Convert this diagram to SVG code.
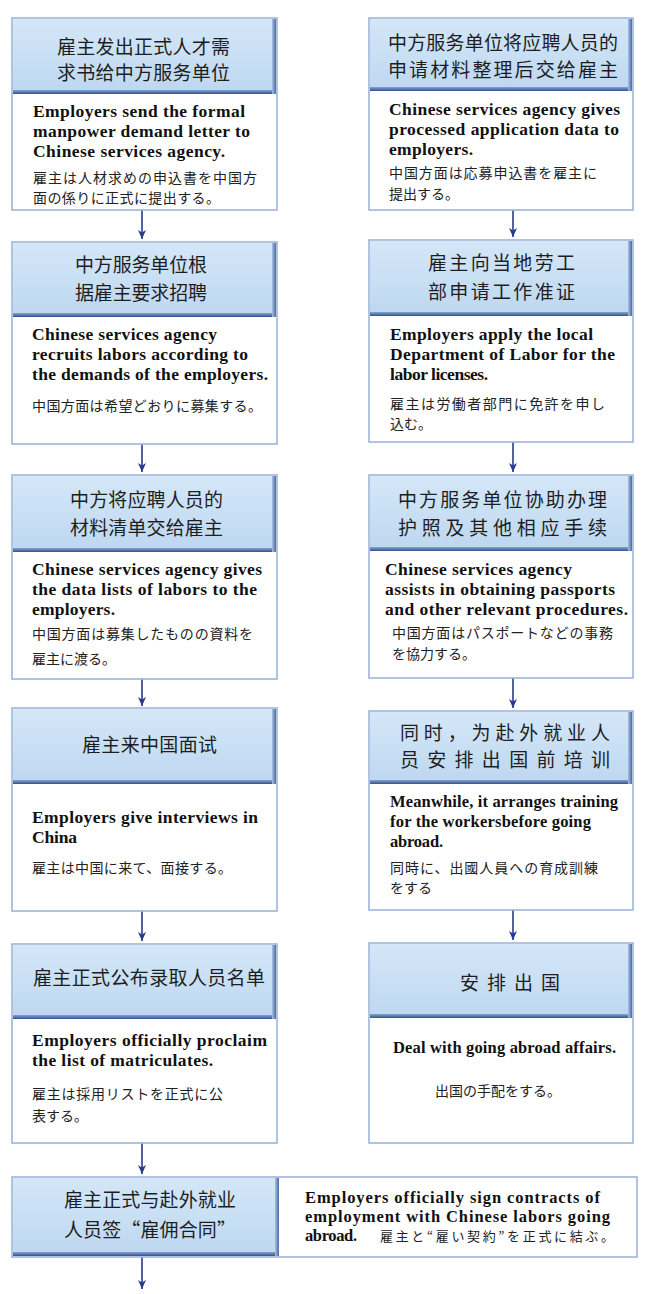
<svg xmlns="http://www.w3.org/2000/svg" width="650" height="1294" viewBox="0 0 650 1294">
<style>
.frame{fill:#ffffff;stroke:#9fb5da;stroke-width:1.6}
.hdr{fill:url(#hg)}
.bb{fill:url(#bbg)}
.br{fill:url(#brg)}
.cn{font-family:"Noto Sans CJK SC","Noto Sans",sans-serif;font-size:19px;fill:#1e1e1e}
.en{font-family:"Liberation Serif",serif;font-weight:bold;font-size:17.5px;fill:#111}
.en2{font-family:"Liberation Serif",serif;font-weight:bold;font-size:16.5px;fill:#111}
.jp{font-family:"Noto Sans CJK JP","Noto Sans CJK SC",sans-serif;font-size:14px;fill:#222}
.arrow{stroke:#283a8c;stroke-width:1.6;fill:none;marker-end:url(#ah)}
</style>
<defs>
<linearGradient id="hg" x1="0" y1="0" x2="0" y2="1">
<stop offset="0" stop-color="#d4e7f8"/>
<stop offset="1" stop-color="#bdd7f0"/>
</linearGradient>
<linearGradient id="bbg" x1="0" y1="0" x2="0" y2="1">
<stop offset="0" stop-color="#86a4d0"/>
<stop offset="1" stop-color="#34528c"/>
</linearGradient>
<linearGradient id="brg" x1="0" y1="0" x2="1" y2="0">
<stop offset="0" stop-color="#a9c0e2"/>
<stop offset="1" stop-color="#4a6aa3"/>
</linearGradient>
<marker id="ah" markerUnits="userSpaceOnUse" markerWidth="10" markerHeight="10" refX="9" refY="5" orient="auto">
<path d="M0,1 L9,5 L0,9 L2.5,5 z" fill="#283a8c"/>
</marker>
</defs>
<rect x="0" y="0" width="650" height="1294" fill="#ffffff"/>

<g id="connectors">
<line class="arrow" x1="142" y1="210" x2="142" y2="239"/>
<line class="arrow" x1="142" y1="444" x2="142" y2="472"/>
<line class="arrow" x1="142" y1="679" x2="142" y2="706"/>
<line class="arrow" x1="142" y1="911" x2="142" y2="941"/>
<line class="arrow" x1="142" y1="1143" x2="142" y2="1174"/>
<line class="arrow" x1="142" y1="1257" x2="142" y2="1289"/>
<line class="arrow" x1="513" y1="210" x2="513" y2="237"/>
<line class="arrow" x1="513" y1="442" x2="513" y2="472"/>
<line class="arrow" x1="513" y1="678" x2="513" y2="708"/>
<line class="arrow" x1="513" y1="910" x2="513" y2="940"/>
</g>

<g id="node-l1">
<rect class="frame" x="12" y="18" width="265" height="192"/>
<rect class="hdr" x="13" y="19" width="263" height="75"/>
<rect class="bb" x="13" y="90" width="263" height="4"/>
<rect class="br" x="272" y="19" width="4" height="75"/>
<text class="cn" x="57" y="54" textLength="173" lengthAdjust="spacing">雇主发出正式人才需</text>
<text class="cn" x="57" y="80" textLength="173" lengthAdjust="spacing">求书给中方服务单位</text>
<text class="en" x="33" y="117" textLength="212" lengthAdjust="spacing">Employers send the formal</text>
<text class="en" x="33" y="137" textLength="217" lengthAdjust="spacing">manpower demand letter to</text>
<text class="en" x="33" y="157" textLength="192" lengthAdjust="spacing">Chinese services agency.</text>
<text class="jp" x="33" y="183" textLength="224" lengthAdjust="spacing">雇主は人材求めの申込書を中国方</text>
<text class="jp" x="33" y="203" textLength="187" lengthAdjust="spacing">面の係りに正式に提出する。</text>
</g>

<g id="node-r1">
<rect class="frame" x="369" y="18" width="264" height="192"/>
<rect class="hdr" x="370" y="19" width="262" height="72"/>
<rect class="bb" x="370" y="87" width="262" height="4"/>
<rect class="br" x="628" y="19" width="4" height="72"/>
<text class="cn" x="388" y="50" textLength="230" lengthAdjust="spacing">中方服务单位将应聘人员的</text>
<text class="cn" x="388" y="77" textLength="230" lengthAdjust="spacing">申请材料整理后交给雇主</text>
<text class="en" x="389" y="115" textLength="231" lengthAdjust="spacing">Chinese services agency gives</text>
<text class="en" x="389" y="135" textLength="230" lengthAdjust="spacing">processed application data to</text>
<text class="en" x="389" y="155" textLength="84" lengthAdjust="spacing">employers.</text>
<text class="jp" x="389" y="178" textLength="208" lengthAdjust="spacing">中国方面は応募申込書を雇主に</text>
<text class="jp" x="389" y="199">提出する。</text>
</g>

<g id="node-l2">
<rect class="frame" x="12" y="242" width="265" height="202"/>
<rect class="hdr" x="13" y="243" width="263" height="74"/>
<rect class="bb" x="13" y="313" width="263" height="4"/>
<rect class="br" x="272" y="243" width="4" height="74"/>
<text class="cn" x="75" y="272" textLength="132" lengthAdjust="spacing">中方服务单位根</text>
<text class="cn" x="75" y="300" textLength="132" lengthAdjust="spacing">据雇主要求招聘</text>
<text class="en" x="32" y="340" textLength="185" lengthAdjust="spacing">Chinese services agency</text>
<text class="en" x="32" y="360" textLength="216" lengthAdjust="spacing">recruits labors according to</text>
<text class="en" x="32" y="380" textLength="236" lengthAdjust="spacing">the demands of the employers.</text>
<text class="jp" x="32" y="411" textLength="230" lengthAdjust="spacing">中国方面は希望どおりに募集する。</text>
</g>

<g id="node-r2">
<rect class="frame" x="369" y="240" width="264" height="202"/>
<rect class="hdr" x="370" y="241" width="262" height="75"/>
<rect class="bb" x="370" y="312" width="262" height="4"/>
<rect class="br" x="628" y="241" width="4" height="75"/>
<text class="cn" x="428" y="270" textLength="147" lengthAdjust="spacing">雇主向当地劳工</text>
<text class="cn" x="428" y="299" textLength="147" lengthAdjust="spacing">部申请工作准证</text>
<text class="en" x="390" y="340" textLength="203" lengthAdjust="spacing">Employers apply the local</text>
<text class="en" x="390" y="360" textLength="225" lengthAdjust="spacing">Department of Labor for the</text>
<text class="en" x="390" y="380" textLength="98" lengthAdjust="spacing">labor licenses.</text>
<text class="jp" x="390" y="409" textLength="215" lengthAdjust="spacing">雇主は労働者部門に免許を申し</text>
<text class="jp" x="390" y="429">込む。</text>
</g>

<g id="node-l3">
<rect class="frame" x="12" y="475" width="265" height="204"/>
<rect class="hdr" x="13" y="476" width="263" height="76"/>
<rect class="bb" x="13" y="548" width="263" height="4"/>
<rect class="br" x="272" y="476" width="4" height="76"/>
<text class="cn" x="70" y="507" textLength="153" lengthAdjust="spacing">中方将应聘人员的</text>
<text class="cn" x="70" y="535" textLength="153" lengthAdjust="spacing">材料清单交给雇主</text>
<text class="en" x="32" y="575" textLength="230" lengthAdjust="spacing">Chinese services agency gives</text>
<text class="en" x="32" y="595" textLength="225" lengthAdjust="spacing">the data lists of labors to the</text>
<text class="en" x="32" y="615" textLength="83" lengthAdjust="spacing">employers.</text>
<text class="jp" x="32" y="639" textLength="221" lengthAdjust="spacing">中国方面は募集したものの資料を</text>
<text class="jp" x="32" y="664">雇主に渡る。</text>
</g>

<g id="node-r3">
<rect class="frame" x="369" y="475" width="264" height="203"/>
<rect class="hdr" x="370" y="476" width="262" height="75"/>
<rect class="bb" x="370" y="547" width="262" height="4"/>
<rect class="br" x="628" y="476" width="4" height="75"/>
<text class="cn" x="398" y="507" textLength="209" lengthAdjust="spacing">中方服务单位协助办理</text>
<text class="cn" x="398" y="535" textLength="209" lengthAdjust="spacing">护照及其他相应手续</text>
<text class="en" x="385" y="575" textLength="187" lengthAdjust="spacing">Chinese services agency</text>
<text class="en" x="385" y="595" textLength="230" lengthAdjust="spacing">assists in obtaining passports</text>
<text class="en" x="385" y="615" textLength="243" lengthAdjust="spacing">and other relevant procedures.</text>
<text class="jp" x="392" y="638" textLength="221" lengthAdjust="spacing">中国方面はパスポートなどの事務</text>
<text class="jp" x="392" y="659">を協力する。</text>
</g>

<g id="node-l4">
<rect class="frame" x="12" y="708" width="265" height="203"/>
<rect class="hdr" x="13" y="709" width="263" height="75"/>
<rect class="bb" x="13" y="780" width="263" height="4"/>
<rect class="br" x="272" y="709" width="4" height="75"/>
<text class="cn" x="82" y="752" textLength="135" lengthAdjust="spacing">雇主来中国面试</text>
<text class="en" x="32" y="823" textLength="226" lengthAdjust="spacing">Employers give interviews in</text>
<text class="en" x="32" y="843" textLength="45" lengthAdjust="spacing">China</text>
<text class="jp" x="32" y="873" textLength="200" lengthAdjust="spacing">雇主は中国に来て、面接する。</text>
</g>

<g id="node-r4">
<rect class="frame" x="369" y="711" width="264" height="199"/>
<rect class="hdr" x="370" y="712" width="262" height="72"/>
<rect class="bb" x="370" y="780" width="262" height="4"/>
<rect class="br" x="628" y="712" width="4" height="72"/>
<text class="cn" x="400" y="740" textLength="210" lengthAdjust="spacing">同时，为赴外就业人</text>
<text class="cn" x="400" y="767" textLength="210" lengthAdjust="spacing">员安排出国前培训</text>
<text class="en2" x="390" y="807" textLength="228" lengthAdjust="spacing">Meanwhile, it arranges training</text>
<text class="en2" x="390" y="827" textLength="201" lengthAdjust="spacing">for the workersbefore going</text>
<text class="en2" x="390" y="847" textLength="53" lengthAdjust="spacing">abroad.</text>
<text class="jp" x="390" y="873" textLength="208" lengthAdjust="spacing">同時に、出國人員への育成訓練</text>
<text class="jp" x="390" y="893">をする</text>
</g>

<g id="node-l5">
<rect class="frame" x="12" y="944" width="265" height="199"/>
<rect class="hdr" x="13" y="945" width="263" height="74"/>
<rect class="bb" x="13" y="1015" width="263" height="4"/>
<rect class="br" x="272" y="945" width="4" height="74"/>
<text class="cn" x="33" y="985" textLength="232" lengthAdjust="spacing">雇主正式公布录取人员名单</text>
<text class="en" x="32" y="1046" textLength="235" lengthAdjust="spacing">Employers officially proclaim</text>
<text class="en" x="32" y="1066" textLength="181" lengthAdjust="spacing">the list of matriculates.</text>
<text class="jp" x="32" y="1099" textLength="191" lengthAdjust="spacing">雇主は採用リストを正式に公</text>
<text class="jp" x="32" y="1121">表する。</text>
</g>

<g id="node-r5">
<rect class="frame" x="369" y="943" width="264" height="200"/>
<rect class="hdr" x="370" y="944" width="262" height="74"/>
<rect class="bb" x="370" y="1014" width="262" height="4"/>
<rect class="br" x="628" y="944" width="4" height="74"/>
<text class="cn" x="460" y="990" textLength="100" lengthAdjust="spacing">安排出国</text>
<text class="en2" x="393" y="1053" textLength="223" lengthAdjust="spacing">Deal with going abroad affairs.</text>
<text class="jp" x="435" y="1096">出国の手配をする。</text>
</g>

<g id="node-b">
<rect class="frame" x="12" y="1177" width="625" height="80"/>
<rect class="hdr" x="13" y="1178" width="266" height="78"/>
<rect class="bb" x="13" y="1252" width="266" height="4"/>
<rect class="br" x="275" y="1178" width="4" height="78"/>
<text class="cn" x="64" y="1207" textLength="172" lengthAdjust="spacing">雇主正式与赴外就业</text>
<text class="cn" x="64" y="1237" textLength="172" lengthAdjust="spacing">人员签“雇佣合同”</text>
<text class="en2" x="305" y="1203" textLength="295" lengthAdjust="spacing">Employers officially sign contracts of</text>
<text class="en2" x="305" y="1222" textLength="305" lengthAdjust="spacing">employment with Chinese labors going</text>
<text class="en2" x="305" y="1241" textLength="52" lengthAdjust="spacing">abroad.</text>
<text class="jp" x="380" y="1241" textLength="234" lengthAdjust="spacing" style="font-size:13px">雇主と“雇い契約”を正式に結ぶ。</text>
</g>
</svg>
